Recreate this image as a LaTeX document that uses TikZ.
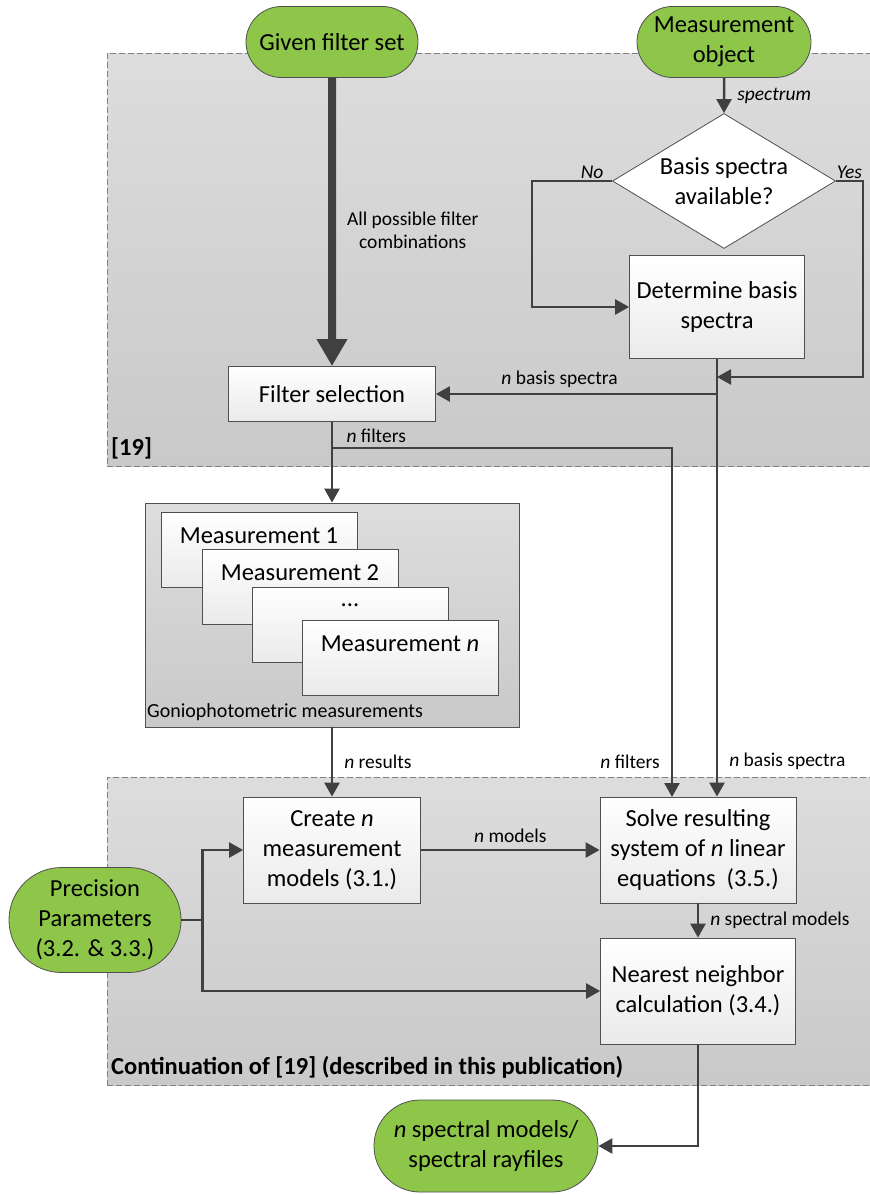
\documentclass[tikz,border=0pt]{standalone}
\usepackage{fontspec}
\setmainfont{Carlito}
\usepackage{tikz}
\usetikzlibrary{arrows.meta, shapes.geometric, shapes.misc, calc, positioning}
\definecolor{termGreen}{RGB}{141,198,72}
\definecolor{lineGray}{RGB}{64,64,64}
\definecolor{borderGray}{RGB}{80,80,80}
\definecolor{regionTop}{RGB}{221,221,221}
\definecolor{regionBottom}{RGB}{201,201,201}
\definecolor{boxBottom}{RGB}{234,234,234}
\newcommand{\boxFont}{\fontsize{24.5}{30}\selectfont}
\newcommand{\edgeFont}{\fontsize{19.5}{23}\selectfont}
\newcommand{\regionFont}{\fontsize{24.5}{29}\selectfont\bfseries}
\tikzset{
    terminal/.style={rounded rectangle, draw=borderGray, line width=0.8pt, fill=termGreen, align=center, font=\boxFont, inner sep=2pt},
    process/.style={rectangle, draw=borderGray, line width=0.8pt, top color=white, bottom color=boxBottom, align=center, font=\boxFont, inner sep=2pt},
    decision/.style={diamond, draw=borderGray, line width=0.8pt, fill=white, inner sep=0pt, minimum width=223pt, minimum height=135pt},
    measBox/.style={rectangle, draw=borderGray, line width=0.8pt, top color=white, bottom color=boxBottom, font=\boxFont, minimum width=196pt, inner sep=5pt, text height=26pt, text depth=39pt},
    region/.style={rectangle, draw=gray, line width=0.8pt, dash pattern=on 6pt off 3pt, top color=regionTop, bottom color=regionBottom, inner sep=0pt},
    groupBox/.style={rectangle, draw=borderGray, line width=0.8pt, top color=regionTop, bottom color=regionBottom, inner sep=0pt},
    regionLabel/.style={font=\regionFont, inner sep=0pt},
    flowEdge/.style={-{Triangle[length=14pt, width=15pt]}, draw=lineGray, line width=2.5pt},
    plainEdge/.style={draw=lineGray, line width=2.5pt},
    bigEdge/.style={-{Triangle[length=27pt, width=29pt]}, draw=lineGray, line width=8pt},
    flowLabel/.style={font=\edgeFont, inner sep=3pt, align=center},
}

\begin{document}
\begin{tikzpicture}[x=1pt, y=-1pt]
        \useasboundingbox (0,0) rectangle (870,1194);

        \node[region, anchor=north west, minimum width=770pt, minimum height=413pt] (regTop) at (107,53) {};
        \node[region, anchor=north west, minimum width=770pt, minimum height=308pt] (regBot) at (107,777) {};
        \node[regionLabel, anchor=base west] (refTop) at (111,455) {[19]};
        \node[regionLabel, anchor=base west] (refBot) at (111,1074) {Continuation of [19] (described in this publication)};

        \node[terminal, minimum width=176pt, minimum height=71pt] (gfs) at (332,42) {Given filter set};
        \node[terminal, minimum width=178pt, minimum height=71pt] (mo) at (724,42) {Measurement\\object};
        \node[decision, label={[align=center, font=\boxFont]center:Basis spectra\\available?}] (dec) at (724,181) {};
        \node[process, minimum width=175pt, minimum height=103pt] (det) at (717,307) {Determine basis\\spectra};
        \node[process, minimum width=207pt, minimum height=55pt] (flt) at (332,394) {Filter selection};

        \node[groupBox, minimum width=374pt, minimum height=224pt] (gonio) at (332,615) {};
        \node[measBox, anchor=north] (m1) at (259,512) {Measurement 1};
        \node[measBox, anchor=north] (m2) at (300,549) {Measurement 2};
        \node[measBox, anchor=north, text height=14pt, text depth=51pt] (mdots) at (350,587) {...};
        \node[measBox, anchor=north] (mn) at (400,620) {Measurement \textit{n}};
        \node[font=\fontsize{20}{24}\selectfont, inner sep=0pt, anchor=base west] (gonioText) at (147,717) {Goniophotometric measurements};

        \node[process, minimum width=177pt, minimum height=106pt] (create) at (332,850) {Create \textit{n}\\measurement\\models (3.1.)};
        \node[process, minimum width=196pt, minimum height=106pt] (solve) at (698,850) {Solve resulting\\system of \textit{n} linear\\equations~ (3.5.)};
        \node[process, minimum width=195pt, minimum height=106pt] (nn) at (698,991) {Nearest neighbor\\calculation (3.4.)};
        \node[terminal, minimum width=176pt, minimum height=105pt] (prec) at (95,920) {Precision\\Parameters\\(3.2. \& 3.3.)};
        \node[terminal, minimum width=228pt, minimum height=92pt] (out) at (486,1146) {\textit{n} spectral models/\\spectral rayfiles};

        \coordinate (yesIn) at (717,377);
        \coordinate (fltBranch) at (332,448);
        \coordinate (precJoin) at ($(prec.east)+(21,0)$);

        \draw[bigEdge] (gfs) -- node[flowLabel, pos=.53, right=8pt] {All possible filter\\combinations} (flt);
        \draw[flowEdge] (mo) -- node[flowLabel, right=9pt] {\textit{spectrum}} (dec.north);
        \draw[flowEdge] (dec.west) -- node[flowLabel, pos=.25, above, inner sep=1pt] {\textit{No}} ++(-80,0) |- (det.west);
        \draw[flowEdge] (dec.east) -- node[flowLabel, above, inner sep=1pt] {\textit{Yes}} ++(27,0) |- (yesIn);
        \draw[flowEdge] (det.south) -- node[flowLabel, pos=.92, right=8pt] {\textit{n} basis spectra} (det.south |- solve.north);
        \draw[flowEdge] (det.south |- flt.east) -- node[flowLabel, pos=.56, above=2pt] {\textit{n} basis spectra} (flt.east);

        \draw[flowEdge] (flt) -- (gonio);
        \draw[flowEdge] (fltBranch) -- node[flowLabel, pos=.13, above=1pt] {\textit{n} filters} (672,448) -- node[flowLabel, pos=.9, left=8pt] {\textit{n} filters} (672,797);
        \draw[flowEdge] (gonio) -- node[flowLabel, right=8pt] {\textit{n} results} (create);
        \draw[flowEdge] (create) -- node[flowLabel, above=3pt] {\textit{n} models} (solve);
        \draw[flowEdge] (solve) -- node[flowLabel, right=8pt] {\textit{n} spectral models} (nn);
        \draw[plainEdge] (prec.east) -- (precJoin);
        \draw[flowEdge] (precJoin) |- (create.west);
        \draw[flowEdge] (precJoin) |- (nn.west);
        \draw[flowEdge] (nn.south) |- (out.east);

    \end{tikzpicture}
\end{document}
